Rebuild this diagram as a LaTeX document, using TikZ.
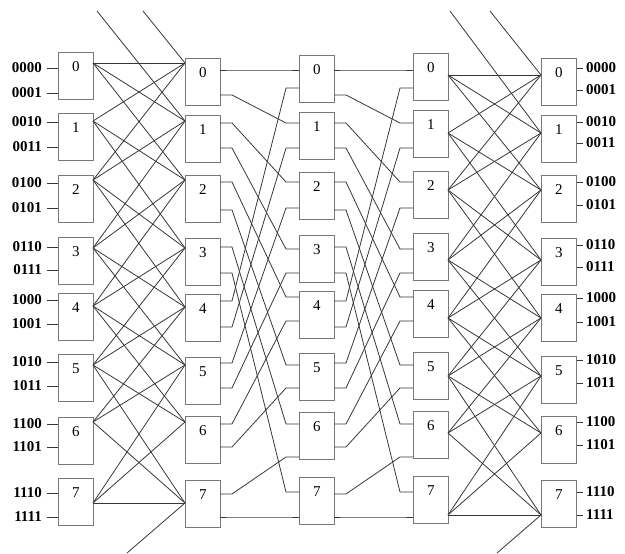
\documentclass[tikz,border=0pt]{standalone}
\usepackage{fontspec}
\setmainfont{Liberation Serif}
\definecolor{boxgray}{RGB}{120,120,120}
\definecolor{wiregray}{RGB}{55,55,55}
\begin{document}
\begin{tikzpicture}[x=1pt,y=-1pt,
  swbox/.style={draw=boxgray, line width=0.9pt, minimum width=35pt, minimum height=47pt, inner sep=0pt, anchor=north west},
  wire/.style={draw=wiregray, line width=0.8pt},
  num/.style={font=\fontsize{15}{15}\selectfont, inner sep=0pt},
  addr/.style={font=\fontsize{15}{15}\selectfont\bfseries, inner sep=0pt}]
\useasboundingbox (0,0) rectangle (625,554);

% ---- boxes ----
\foreach \i/\t in {0/52,1/113,2/175,3/237,4/293,5/354,6/417,7/478}
  {\node[swbox] (a\i) at (58,\t) {}; \node[num] (na\i) at ([yshift=-15pt]a\i.north) {\i};}
\foreach \i/\t in {0/58,1/115,2/175,3/238,4/294,5/357,6/416,7/480}
  {\node[swbox] (b\i) at (185,\t) {}; \node[num] (nb\i) at ([yshift=-15pt]b\i.north) {\i};}
\foreach \i/\t in {0/55,1/112,2/172,3/235,4/291,5/353,6/412,7/477}
  {\node[swbox] (c\i) at (299,\t) {}; \node[num] (nc\i) at ([yshift=-15pt]c\i.north) {\i};}
\foreach \i/\t in {0/53,1/110,2/171,3/233,4/290,5/352,6/411,7/476}
  {\node[swbox] (d\i) at (413,\t) {}; \node[num] (nd\i) at ([yshift=-15pt]d\i.north) {\i};}
\foreach \i/\t in {0/58,1/115,2/175,3/238,4/294,5/356,6/416,7/480}
  {\node[swbox] (e\i) at (541,\t) {}; \node[num] (ne\i) at ([yshift=-15pt]e\i.north) {\i};}

% ---- ports ----
\foreach \i/\p in {0/63,1/121,2/180,3/248,4/306,5/365,6/422,7/503}
  \coordinate (ao\i) at (93,\p);
\foreach \i/\p in {0/63,1/121,2/180,3/248,4/307,5/365,6/422,7/503}
  \coordinate (bi\i) at (185,\p);
\foreach \i/\u/\l in {0/70/95,1/123/148,2/182/210,3/247/273,4/301/327,5/363/388,6/424/447,7/494/517}
  {\coordinate (bo\i0) at (220,\u); \coordinate (bo\i1) at (220,\l);
   \coordinate (co\i0) at (334,\u); \coordinate (co\i1) at (334,\l);}
\foreach \i/\u/\l in {0/70/88,1/123/148,2/182/208,3/249/273,4/297/321,5/365/388,6/424/457,7/492/517}
  {\coordinate (ci\i0) at (299,\u); \coordinate (ci\i1) at (299,\l);
   \coordinate (di\i0) at (413,\u); \coordinate (di\i1) at (413,\l);}
\foreach \i/\p in {0/75,1/133,2/190,3/260,4/318,5/376,6/433,7/515}
  {\coordinate (do\i) at (448,\p); \coordinate (ei\i) at (541,\p);}

% ---- first and last interconnection ----
\foreach \i in {0,...,7}{
  \foreach \j in {0,...,7}{
    \pgfmathtruncatemacro\d{abs(\i-\j)}
    \ifnum\d>0 \ifnum\d<3
      \draw[wire] (ao\i) -- (bi\j);
      \draw[wire] (do\i) -- (ei\j);
    \fi\fi
  }
}
\draw[wire] (ao0) -- (bi0);
\draw[wire] (ao7) -- (bi7);
\draw[wire] (do0) -- (ei0);
\draw[wire] (do7) -- (ei7);

% wrap-around lines
\coordinate (wa1) at (97,11);
\coordinate (wa2) at (143,11);
\coordinate (wa3) at (127,553);
\coordinate (wd1) at (450,11);
\coordinate (wd2) at (490,11);
\coordinate (wd3) at (497,553);
\draw[wire] (wa1) -- (bi1);
\draw[wire] (wa2) -- (bi0);
\draw[wire] (wa3) -- (bi7);
\draw[wire] (wd1) -- (ei1);
\draw[wire] (wd2) -- (ei0);
\draw[wire] (wd3) -- (ei7);

% ---- shuffle interconnections ----
\foreach \p in {0,...,15}{
  \pgfmathtruncatemacro\si{div(\p,2)}
  \pgfmathtruncatemacro\sb{mod(\p,2)}
  \pgfmathtruncatemacro\q{ifthenelse(\p==15,15,mod(2*\p,15))}
  \pgfmathtruncatemacro\ti{div(\q,2)}
  \pgfmathtruncatemacro\tb{mod(\q,2)}
  \draw[wire] (bo\si\sb) -- ++(12,0) -- ([xshift=-13pt]ci\ti\tb) -- (ci\ti\tb);
  \draw[wire] (co\si\sb) -- ++(12,0) -- ([xshift=-13pt]di\ti\tb) -- (di\ti\tb);
}

% ---- address labels ----
\foreach \k/\y/\txt in {0/68/0000,1/93/0001,2/122/0010,3/147/0011,4/183/0100,5/208/0101,6/247/0110,7/270/0111,
  8/300/1000,9/324/1001,10/362/1010,11/386/1011,12/424/1100,13/447/1101,14/493/1110,15/517/1111}{
  \pgfmathtruncatemacro\bx{div(\k,2)}
  \node[addr, anchor=east] (la\k) at (42,\y) {\txt};
  \draw[wire] ([xshift=5pt]la\k.east) -- (la\k.east -| a\bx.west);
}
\foreach \k/\y/\txt in {0/68/0000,1/90/0001,2/122/0010,3/143/0011,4/182/0100,5/205/0101,6/245/0110,7/267/0111,
  8/298/1000,9/322/1001,10/360/1010,11/383/1011,12/422/1100,13/445/1101,14/492/1110,15/515/1111}{
  \pgfmathtruncatemacro\bx{div(\k,2)}
  \node[addr, anchor=west] (lb\k) at (586,\y) {\txt};
  \draw[wire] (lb\k.west -| e\bx.east) -- ([xshift=-3pt]lb\k.west);
}
\end{tikzpicture}
\end{document}
